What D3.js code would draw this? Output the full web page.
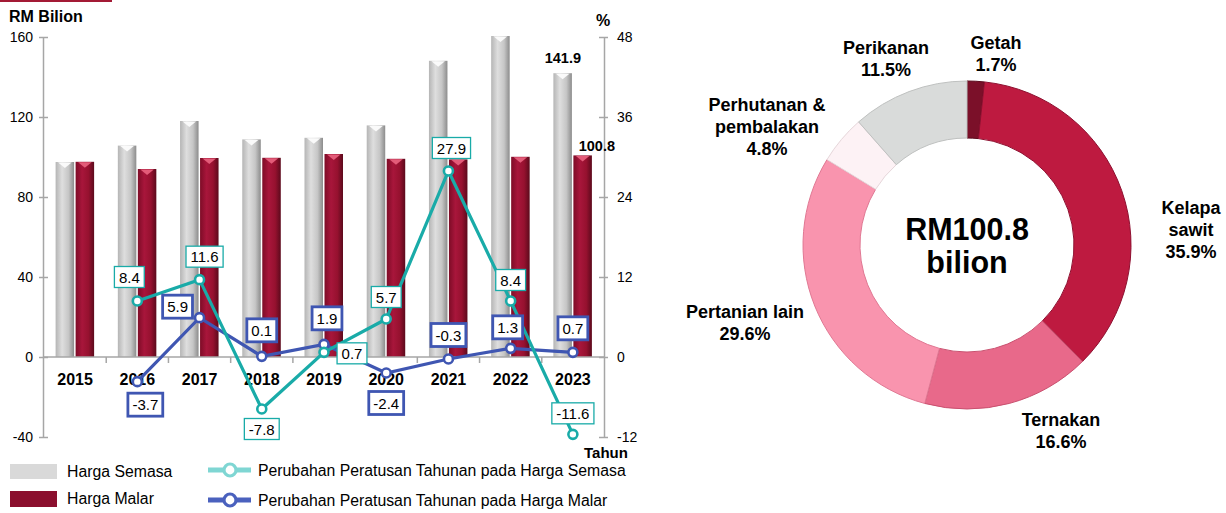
<!DOCTYPE html>
<html>
<head>
<meta charset="utf-8">
<script src="https://cdn.jsdelivr.net/npm/d3@7"></script>
<style>
  body { margin: 0; background: #fff; }
  svg text { font-family: "Liberation Sans", Arial, sans-serif; fill: #000; }
</style>
</head>
<body>
<svg id="chart" width="1226" height="513"></svg>
<script>
// data
var years = ["2015", "2016", "2017", "2018", "2019", "2020", "2021", "2022", "2023"];
var hargaSemasa = [97.5, 105.7, 118.0, 108.8, 109.6, 115.8, 148.1, 160.5, 141.9];
var hargaMalar = [97.6, 94.0, 99.5, 99.6, 101.5, 99.1, 98.8, 100.1, 100.8];
var ubahSemasa = [null, 8.4, 11.6, -7.8, 0.7, 5.7, 27.9, 8.4, -11.6];
var ubahMalar = [null, -3.7, 5.9, 0.1, 1.9, -2.4, -0.3, 1.3, 0.7];
var leftTicks = [-40, 0, 40, 80, 120, 160];
var rightTicks = [-12, 0, 12, 24, 36, 48];

var sektor = [["Getah"], ["Kelapa", "sawit"], ["Ternakan"], ["Pertanian lain"], ["Perhutanan &", "pembalakan"], ["Perikanan"]];
var peratus = [1.7, 35.9, 16.6, 29.6, 4.8, 11.5];
var jumlahNilai = 100.8;

// layout: where each line label box sits relative to its point
var offSemasa = [null, [-8, -24], [5, -23], [0, 20], [28, 1], [0, -22], [3, -23], [0, -21], [0, -21]];
var offMalar = [null, [8, 23], [-22, -11], [0, -26], [3, -26], [0, 30], [0, -24], [-3, -21], [0, -24]];
// donut label spots relative to the centre (first line, centre y)
var donutLabelPos = [[29, -202], [224, -37], [94, 175], [-222, 67], [-200, -140], [-81, -197]];
var donutColors = ["#7b1029", "#be1a40", "#e8698a", "#f994ae", "#fdf2f5", "#d9dbda"];
var donutStroke = ["#5a0a1c", "#8e1030", "#c9506f", "#e07893", "#e6d6da", "#bfc1c0"];

// hyphen minus like the original
var loc = d3.formatLocale({decimal: ".", thousands: ",", grouping: [3], currency: ["", ""], minus: "-"});
var f1 = loc.format(".1f");
var f0 = loc.format("d");

var svg = d3.select("#chart");
var defs = svg.append("defs");

function cylGrad(id, stops) {
  var g = defs.append("linearGradient").attr("id", id)
    .attr("x1", "0").attr("x2", "1").attr("y1", "0").attr("y2", "0");
  stops.forEach(function(s) {
    g.append("stop").attr("offset", s[0]).attr("stop-color", s[1]);
  });
}
cylGrad("gGray", [[0, "#b5b5b5"], [0.35, "#dedede"], [0.7, "#c6c6c6"], [1, "#8c8c8c"]]);
cylGrad("gRed", [[0, "#7e0c27"], [0.35, "#a8163b"], [0.7, "#96112f"], [1, "#5c0a1c"]]);

// decoration line at top-left
svg.append("line").attr("x1", 0).attr("x2", 112).attr("y1", 1).attr("y2", 1)
  .attr("stroke", "#a31a35").attr("stroke-width", 2);

// scales
var x = d3.scaleBand().domain(years).range([44, 604]);
var yL = d3.scaleLinear().domain([-40, 160]).range([437, 37]);
var yR = d3.scaleLinear().domain([-12, 48]).range([437, 37]);
var bw = x.bandwidth();
var barW = 18.5;
var axisColor = "#a6a6a6";

// left axis
var gL = svg.append("g").attr("transform", "translate(43,0)")
  .call(d3.axisLeft(yL).tickValues(leftTicks).tickFormat(f0).tickSize(4).tickSizeOuter(0).tickPadding(6));
gL.selectAll(".tick line").attr("x2", -4).attr("x1", 5);
// right axis
var gR = svg.append("g").attr("transform", "translate(604,0)")
  .call(d3.axisRight(yR).tickValues(rightTicks).tickFormat(f0).tickSize(4).tickSizeOuter(0).tickPadding(9));
gR.selectAll(".tick line").attr("x1", -5).attr("x2", 4);
[gL, gR].forEach(function(g) {
  g.select(".domain").attr("stroke", axisColor).attr("stroke-width", 1.5);
  g.selectAll(".tick line").attr("stroke", axisColor).attr("stroke-width", 1.5);
  g.selectAll(".tick text").style("font-size", "14px").attr("fill", "#000");
});

// bars
var data = years.map(function(y, i) {
  return {year: y, semasa: hargaSemasa[i], malar: hargaMalar[i], uS: ubahSemasa[i], uM: ubahMalar[i], i: i};
});

function capPath(x0, top, w) {
  return "M" + (x0 + 2.5) + "," + (top + 0.5) + "L" + (x0 + w - 2.5) + "," + (top + 0.5) +
    "L" + (x0 + w / 2) + "," + (top + 6) + "Z";
}

var bar_g = svg.append("g").selectAll("g").data(data).join("g");
bar_g.append("rect")
  .attr("x", d => x(d.year) + bw / 2 - 19.5)
  .attr("y", d => yL(d.semasa))
  .attr("width", barW)
  .attr("height", d => yL(0) - yL(d.semasa))
  .attr("fill", "url(#gGray)");
bar_g.append("path")
  .attr("d", d => capPath(x(d.year) + bw / 2 - 19.5, yL(d.semasa), barW))
  .attr("fill", "#fafafa");
bar_g.append("rect")
  .attr("x", d => x(d.year) + bw / 2 + 0.5)
  .attr("y", d => yL(d.malar))
  .attr("width", barW)
  .attr("height", d => yL(0) - yL(d.malar))
  .attr("fill", "url(#gRed)");
bar_g.append("path")
  .attr("d", d => capPath(x(d.year) + bw / 2 + 0.5, yL(d.malar), barW))
  .attr("fill", "#e35c79");

// values on the last year
var last = data[data.length - 1];
svg.append("text").text(f1(last.semasa))
  .attr("x", x(last.year) + bw / 2 - 10).attr("y", yL(last.semasa) - 10)
  .attr("text-anchor", "middle").style("font-size", "14.5px").style("font-weight", "bold");
svg.append("text").text(f1(last.malar))
  .attr("x", x(last.year) + bw / 2 + 24).attr("y", yL(last.malar) - 4.5)
  .attr("text-anchor", "middle").style("font-size", "14.5px").style("font-weight", "bold");

// category axis at zero
var gX = svg.append("g").attr("transform", "translate(0," + yL(0) + ")")
  .call(d3.axisBottom(x).tickSize(0).tickPadding(17));
gX.select(".domain").remove();
gX.selectAll(".tick text").style("font-size", "16px").style("font-weight", "bold").attr("fill", "#000");
svg.append("line").attr("x1", 43).attr("x2", 604).attr("y1", yL(0)).attr("y2", yL(0))
  .attr("stroke", axisColor).attr("stroke-width", 1.5);
svg.append("g").selectAll("line").data(years.slice(1)).join("line")
  .attr("x1", d => x(d)).attr("x2", d => x(d))
  .attr("y1", yL(0)).attr("y2", yL(0) + 6)
  .attr("stroke", axisColor).attr("stroke-width", 1.5);

// axis titles
svg.append("text").text("RM Bilion").attr("x", 9).attr("y", 22)
  .style("font-size", "16px").style("font-weight", "bold");
svg.append("text").text("%").attr("x", 603).attr("y", 26).attr("text-anchor", "middle")
  .style("font-size", "16px").style("font-weight", "bold");
svg.append("text").text("Tahun").attr("x", 606).attr("y", 458).attr("text-anchor", "middle")
  .style("font-size", "15px").style("font-weight", "bold");

// lines
var teal = "#19aba8", blue = "#3f56b2";
var cx = d => x(d.year) + bw / 2;
var lineS = d3.line().defined(d => d.uS != null).x(cx).y(d => yR(d.uS));
var lineM = d3.line().defined(d => d.uM != null).x(cx).y(d => yR(d.uM));
svg.append("path").datum(data).attr("d", lineM).attr("fill", "none")
  .attr("stroke", blue).attr("stroke-width", 3.2);
svg.append("path").datum(data).attr("d", lineS).attr("fill", "none")
  .attr("stroke", teal).attr("stroke-width", 3.2);
var ptsM = data.filter(d => d.uM != null);
var ptsS = data.filter(d => d.uS != null);
svg.append("g").selectAll("circle").data(ptsM).join("circle")
  .attr("cx", cx).attr("cy", d => yR(d.uM)).attr("r", 4.5)
  .attr("fill", "#fff").attr("stroke", blue).attr("stroke-width", 2.6);
svg.append("g").selectAll("circle").data(ptsS).join("circle")
  .attr("cx", cx).attr("cy", d => yR(d.uS)).attr("r", 4.5)
  .attr("fill", "#fff").attr("stroke", teal).attr("stroke-width", 2.6);

function labelBoxes(pts, key, offs, color, sw, h) {
  var g = svg.append("g").selectAll("g").data(pts).join("g")
    .attr("transform", d => "translate(" + (cx(d) + offs[d.i][0]) + "," + (yR(d[key]) + offs[d.i][1]) + ")");
  g.append("rect").attr("fill", "#fff").attr("stroke", color).attr("stroke-width", sw);
  var txt = g.append("text").text(d => f1(d[key]))
    .attr("text-anchor", "middle").attr("y", 5.5).style("font-size", "15px");
  txt.each(function() {
    var w = this.getComputedTextLength() + 9;
    d3.select(this.parentNode).select("rect")
      .attr("x", -w / 2).attr("y", -h / 2).attr("width", w).attr("height", h);
  });
}
labelBoxes(ptsM, "uM", offMalar, blue, 2.8, 23);
labelBoxes(ptsS, "uS", offSemasa, teal, 1.3, 21);

// legend
var lg = svg.append("g").style("font-size", "15.8px");
lg.append("rect").attr("x", 10).attr("y", 464).attr("width", 47).attr("height", 15).attr("fill", "#d9d9d9");
lg.append("rect").attr("x", 10).attr("y", 491).attr("width", 47).attr("height", 16).attr("fill", "#8b0f2e");
lg.append("text").text("Harga Semasa").attr("x", 67).attr("y", 477);
lg.append("text").text("Harga Malar").attr("x", 67).attr("y", 504);
[[470, "#7fd6d3", "Perubahan Peratusan Tahunan pada Harga Semasa"],
 [500, "#4a61be", "Perubahan Peratusan Tahunan pada Harga Malar"]].forEach(function(l) {
  lg.append("line").attr("x1", 208).attr("x2", 251).attr("y1", l[0]).attr("y2", l[0])
    .attr("stroke", l[1]).attr("stroke-width", 5);
  lg.append("circle").attr("cx", 230).attr("cy", l[0]).attr("r", 6)
    .attr("fill", "#fff").attr("stroke", l[1]).attr("stroke-width", 3.2);
  lg.append("text").text(l[2]).attr("x", 258).attr("y", l[0] + 6);
});

// donut
var dcx = 967, dcy = 245;
var pie = d3.pie().sort(null).value(d => d);
var arc = d3.arc().innerRadius(107).outerRadius(164);
var dg = svg.append("g").attr("transform", "translate(" + dcx + "," + dcy + ")");
dg.selectAll("path").data(pie(peratus)).join("path")
  .attr("d", arc)
  .attr("fill", (d, i) => donutColors[i])
  .attr("stroke", (d, i) => donutStroke[i])
  .attr("stroke-width", 1);

dg.append("text").text("RM" + f1(jumlahNilai))
  .attr("text-anchor", "middle").attr("y", -5)
  .style("font-size", "30.5px").style("font-weight", "bold");
dg.append("text").text("bilion")
  .attr("text-anchor", "middle").attr("y", 28)
  .style("font-size", "30.5px").style("font-weight", "bold");

sektor.forEach(function(lines, i) {
  var t = dg.append("text").attr("text-anchor", "middle")
    .style("font-size", "18px").style("font-weight", "bold");
  var all = lines.concat([f1(peratus[i]) + "%"]);
  all.forEach(function(s, j) {
    t.append("tspan").text(s)
      .attr("x", donutLabelPos[i][0])
      .attr("y", donutLabelPos[i][1] + 6 + j * 22);
  });
});
</script>
</body>
</html>
